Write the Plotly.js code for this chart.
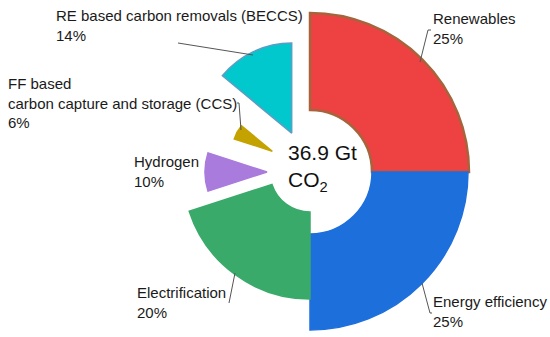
<!DOCTYPE html>
<html>
<head>
<meta charset="utf-8">
<script src="https://cdn.plot.ly/plotly-3.0.1.min.js"></script>
<style>
  body { margin: 0; background: #fff; }
  #chart { width: 550px; height: 337px; }
</style>
</head>
<body>
<div id="chart"></div>
<script>
// slices, clockwise from 12 o'clock
const labels = ["Renewables", "Energy efficiency", "Electrification", "Hydrogen",
  "FF based<br>carbon capture and storage (CCS)", "RE based carbon removals (BECCS)"];
const shares = [25, 25, 20, 10, 6, 14]; // %
const outerR = [159, 158, 127, 62, 40, 90]; // slice radius (px units)
const innerR = [62, 62, 40, 0, 0, 0];
const explode = [0, 0, 0, 43, 43, 43];
const colors = ["#ee4242", "#1d6fdc", "#3aaa6a", "#a97bdc", "#c4a300", "#00c8cc"];
const edgeColors = ["#a5643c", "#1d6fdc", "#3aaa6a", "#a97bdc", "#c4a300", "#5e9cc4"];
const centerText = "36.9 Gt<br>CO<sub>2</sub>";

const W = 550, H = 337;
const cx = 310, cy = 172; // pie centre, px

// px -> paper
const px = (x) => x / W;
const py = (y) => 1 - y / H;

let data = [];
let layout = {
  width: W,
  height: H,
  margin: { l: 0, r: 0, t: 0, b: 0 },
  paper_bgcolor: "#fff",
  showlegend: false,
  font: { family: "Liberation Sans, Arial, sans-serif", color: "#1a1a1a" },
  annotations: [],
  shapes: [],
};

let start = 0;
for (let i = 0; i < labels.length; i++) {
  const width = shares[i] * 3.6;
  const mid = start + width / 2;
  start += width;

  const rad = mid * Math.PI / 180;
  const ox = cx + explode[i] * Math.sin(rad);
  const oy = cy - explode[i] * Math.cos(rad);
  const half = outerR[i] + 4;

  const key = i === 0 ? "polar" : "polar" + (i + 1);
  data.push({
    type: "barpolar",
    subplot: key,
    theta: [mid],
    width: [width],
    r: [outerR[i] - innerR[i]],
    base: [innerR[i]],
    marker: { color: colors[i], line: { color: edgeColors[i], width: i === 0 ? 2.5 : 1.5 } },
    hoverinfo: "skip",
  });

  layout[key] = {
    domain: { x: [px(ox - half), px(ox + half)], y: [py(oy + half), py(oy - half)] },
    bgcolor: "rgba(0,0,0,0)",
    radialaxis: { range: [0, half], visible: false, showgrid: false },
    angularaxis: {
      rotation: 90, direction: "clockwise", visible: false,
      showgrid: false, showline: false, showticklabels: false, ticks: "",
    },
  };
}

// labels (left edge, vertical centre of block) in px
const labelX = [431, 431, 135, 132, 6, 54];
const labelY = [29, 311.5, 302.5, 171.5, 103, 25.5];
for (let i = 0; i < labels.length; i++) {
  layout.annotations.push({
    xref: "paper", yref: "paper",
    x: px(labelX[i]), y: py(labelY[i]),
    xanchor: "left", yanchor: "middle", align: "left",
    showarrow: false,
    text: labels[i] + "<br>" + shares[i] + "%",
    font: { size: 15 },
  });
}

layout.annotations.push({
  xref: "paper", yref: "paper",
  x: px(286), y: py(168),
  xanchor: "left", yanchor: "middle", align: "left",
  showarrow: false,
  text: centerText,
  font: { size: 21, color: "#111" },
});

// leader lines
const leaders = [
  "M 431 30 L 428 30 L 420 62",
  "M 422 283 L 430 313 L 432 313",
  "M 229 303 L 235 273",
  "M 237 103 L 239 103 L 241 130",
  "M 178 43 L 253 55",
];
for (let p of leaders) {
  const d = p.replace(/(\d+(\.\d+)?) (\d+(\.\d+)?)/g, (m, a, b, c) => px(+a) + "," + py(+c));
  layout.shapes.push({ type: "path", xref: "paper", yref: "paper", path: d, line: { color: "#555", width: 1 } });
}

Plotly.newPlot("chart", data, layout, { staticPlot: true });
</script>
</body>
</html>
